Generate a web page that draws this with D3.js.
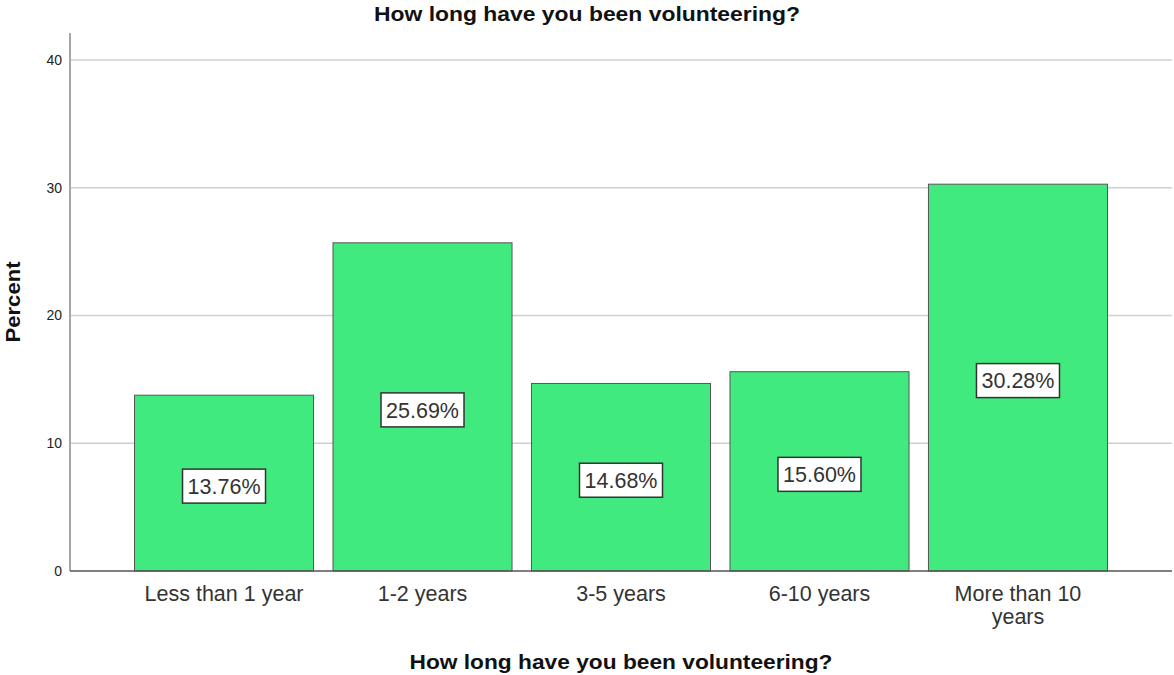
<!DOCTYPE html>
<html>
<head>
<meta charset="utf-8">
<script src="https://cdn.jsdelivr.net/npm/d3@7"></script>
<style>
  body { margin: 0; background: #fff; }
  svg { display: block; font-family: Arial, "Liberation Sans", sans-serif; }
</style>
</head>
<body>
<svg id="chart" width="1174" height="675"></svg>
<script>
// Duration categories and their share of respondents
const categories = ["Less than 1 year", "1-2 years", "3-5 years", "6-10 years", "More than 10 years"];
const categoryLines = [["Less than 1 year"], ["1-2 years"], ["3-5 years"], ["6-10 years"], ["More than 10", "years"]];
const percents = [13.76, 25.69, 14.68, 15.60, 30.28];
const yTicks = [0, 10, 20, 30, 40];

const title = "How long have you been volunteering?";
const xTitle = "How long have you been volunteering?";
const yTitle = "Percent";

const svg = d3.select("#chart");
const plotLeft = 70, plotRight = 1172, plotTop = 33, plotBottom = 571;

const x = d3.scaleBand()
  .domain(categories)
  .range([plotLeft, plotRight])
  .paddingInner(0.098)
  .paddingOuter(0.325);

const y = d3.scaleLinear().domain([0, 40]).range([plotBottom, 60]);

// gridlines
svg.append("g")
  .selectAll("line")
  .data(yTicks.filter(d => d > 0))
  .join("line")
  .attr("x1", plotLeft + 1).attr("x2", plotRight)
  .attr("y1", d => y(d)).attr("y2", d => y(d))
  .attr("stroke", "#d0d0d0").attr("stroke-width", 1.5);

// y axis
const yAxis = svg.append("g")
  .attr("transform", `translate(${plotLeft},0)`)
  .call(d3.axisLeft(y).tickValues(yTicks).tickSize(0).tickPadding(8));
yAxis.select(".domain").remove();
yAxis.selectAll("text").attr("font-size", 14).attr("fill", "#222")
  .attr("font-family", "Arial, 'Liberation Sans', sans-serif");
svg.append("line")
  .attr("x1", plotLeft).attr("x2", plotLeft).attr("y1", plotTop).attr("y2", plotBottom)
  .attr("stroke", "#888").attr("stroke-width", 1.5);

// bars
svg.append("g")
  .selectAll("rect")
  .data(percents)
  .join("rect")
  .attr("x", (d, i) => x(categories[i]))
  .attr("y", d => y(d))
  .attr("width", x.bandwidth())
  .attr("height", d => y(0) - y(d))
  .attr("fill", "#41ea7f")
  .attr("stroke", "#555").attr("stroke-width", 1);

// x baseline
svg.append("line")
  .attr("x1", plotLeft).attr("x2", plotRight).attr("y1", plotBottom).attr("y2", plotBottom)
  .attr("stroke", "#555").attr("stroke-width", 1.5);

// value labels in boxes
const lab = svg.append("g").selectAll("g")
  .data(percents)
  .join("g")
  .attr("transform", (d, i) => `translate(${x(categories[i]) + x.bandwidth() / 2},${y(d / 2) + 3})`);
lab.append("rect")
  .attr("x", -41.5).attr("y", -17).attr("width", 83).attr("height", 34)
  .attr("fill", "#fff").attr("stroke", "#333").attr("stroke-width", 1.5);
lab.append("text")
  .attr("text-anchor", "middle").attr("dy", "0.36em")
  .attr("font-size", 21.5).attr("fill", "#333")
  .text(d => d.toFixed(2) + "%");

// category labels
const xl = svg.append("g").selectAll("text")
  .data(categoryLines)
  .join("text")
  .attr("x", (d, i) => x(categories[i]) + x.bandwidth() / 2)
  .attr("y", 601)
  .attr("text-anchor", "middle")
  .attr("font-size", 21.5).attr("fill", "#333");
xl.selectAll("tspan")
  .data(d => d)
  .join("tspan")
  .attr("x", function () { return this.parentNode.getAttribute("x"); })
  .attr("dy", (d, i) => i === 0 ? 0 : 23)
  .text(d => d);

// titles
svg.append("text")
  .attr("x", 587).attr("y", 21)
  .attr("text-anchor", "middle").attr("font-size", 20.5).attr("font-weight", "bold")
  .attr("textLength", 426).attr("lengthAdjust", "spacingAndGlyphs")
  .attr("fill", "#111").text(title);

svg.append("text")
  .attr("x", 621).attr("y", 669)
  .attr("text-anchor", "middle").attr("font-size", 20.5).attr("font-weight", "bold")
  .attr("textLength", 423).attr("lengthAdjust", "spacingAndGlyphs")
  .attr("fill", "#111").text(xTitle);

svg.append("text")
  .attr("transform", "translate(20,302) rotate(-90)")
  .attr("text-anchor", "middle").attr("font-size", 20).attr("font-weight", "bold")
  .attr("textLength", 81).attr("lengthAdjust", "spacingAndGlyphs")
  .attr("fill", "#111").text(yTitle);
</script>
</body>
</html>
